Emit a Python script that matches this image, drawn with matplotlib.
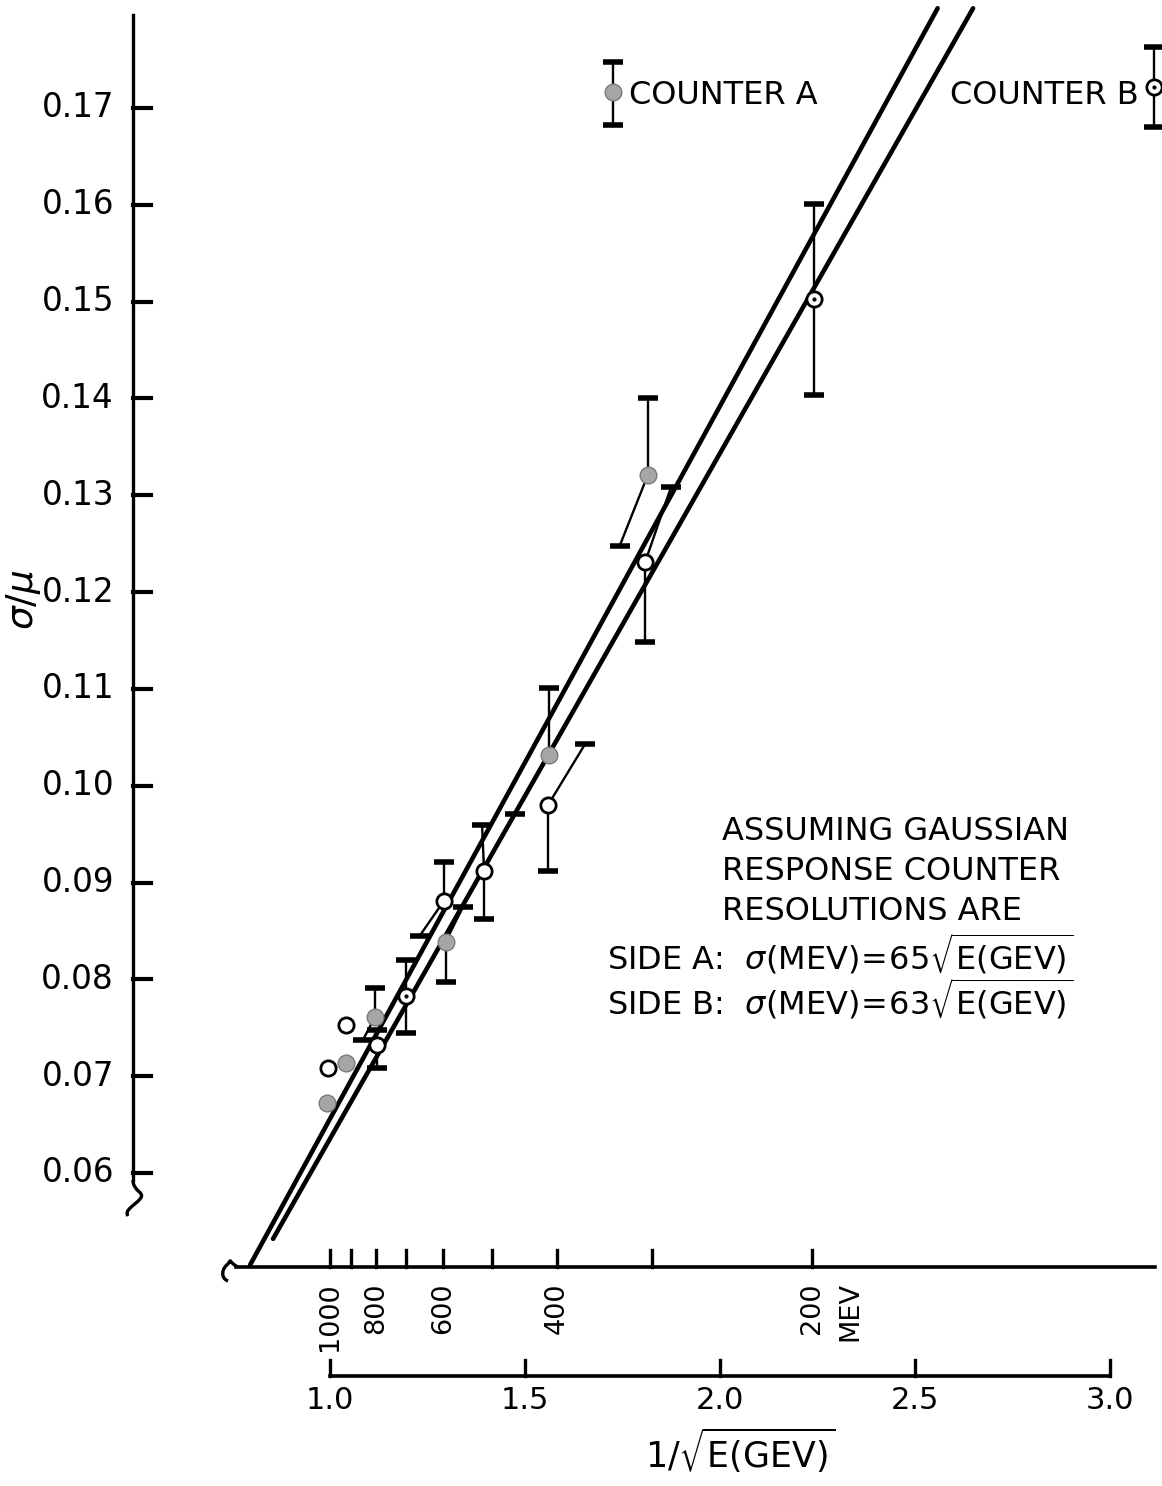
import numpy as np
import matplotlib
matplotlib.use("Agg")
import matplotlib.pyplot as plt
from matplotlib.path import Path
from matplotlib.patches import PathPatch

# sigma/mu axis
y_ticks = [0.06, 0.07, 0.08, 0.09, 0.10, 0.11, 0.12, 0.13, 0.14, 0.15, 0.16, 0.17]
y_tick_labels = ["0.06", "0.07", "0.08", "0.09", "0.10", "0.11",
                 "0.12", "0.13", "0.14", "0.15", "0.16", "0.17"]

# beam energy scale (MEV), placed at 1/sqrt(E in GEV)
energy_ticks = [1000, 900, 800, 700, 600, 500, 400, 300, 200]
energy_labels = ["1000", "", "800", "", "600", "", "400", "", "200"]

# 1/sqrt(E) scale
inv_ticks = [1.0, 1.5, 2.0, 2.5, 3.0]
inv_labels = ["1.0", "1.5", "2.0", "2.5", "3.0"]

# counter A (filled points)
a_x = [0.992, 1.041, 1.115, 1.297, 1.562, 1.815]
a_y = [0.0672, 0.0714, 0.0761, 0.0839, 0.1032, 0.1321]
a_lo = [np.nan, np.nan, 0.0737, 0.0797, 0.0971, 0.1248]
a_hi = [np.nan, np.nan, 0.0791, 0.0875, 0.1101, 0.1400]
a_lo_dx = [0, 0, -0.031, 0, -0.087, -0.072]
a_hi_dx = [0, 0, 0, 0.044, 0, 0]

# counter B (open points)
b_x = [0.995, 1.041, 1.121, 1.195, 1.292, 1.395, 1.559, 1.808, 2.241]
b_y = [0.0708, 0.0753, 0.0732, 0.0783, 0.0881, 0.0912, 0.0980, 0.1231, 0.1503]
b_lo = [np.nan, np.nan, 0.0708, 0.0745, 0.0845, 0.0862, 0.0912, 0.1148, 0.1404]
b_hi = [np.nan, np.nan, 0.0748, 0.0820, 0.0921, 0.0959, 0.1043, 0.1309, 0.1601]
b_lo_dx = [0, 0, 0, 0, -0.062, 0, 0, 0, 0]
b_hi_dx = [0, 0, 0, 0, 0, -0.005, 0.095, 0.067, 0]
b_dot = [0, 0, 0, 1, 0, 0, 0, 0, 1]

# fitted lines (end points)
line_a_x = [0.795, 2.558]
line_a_y = [0.0505, 0.1803]
line_b_x = [0.854, 2.649]
line_b_y = [0.0532, 0.1803]

annot_lines = ["ASSUMING GAUSSIAN", "RESPONSE COUNTER", "RESOLUTIONS ARE"]
side_a = r"SIDE A:  $\sigma$(MEV)$\!=\!$65$\sqrt{\mathrm{E(GEV)}}$"
side_b = r"SIDE B:  $\sigma$(MEV)$\!=\!$63$\sqrt{\mathrm{E(GEV)}}$"


# pixel -> data helpers for layout
def ux(px):
    return 1.0 + (px - 330) / 390.0


def vy(py):
    return 0.06 + (1173 - py) / 9682.0


plt.rcParams["font.family"] = ["DejaVu Sans"]
plt.rcParams["mathtext.fontset"] = "dejavusans"

fig = plt.figure(figsize=(11.62, 14.86), dpi=100)
ax = fig.add_axes([0, 0, 1, 1])
ax.set_xlim(ux(0), ux(1162))
ax.set_ylim(vy(1486), vy(0))
ax.axis("off")

K = "black"


def squiggle(pts):
    verts = [(ux(x), vy(y)) for x, y in pts]
    codes = [Path.MOVETO] + [Path.CURVE4] * (len(verts) - 1)
    ax.add_patch(PathPatch(Path(verts, codes), fill=False, lw=2.4, color=K))


# vertical axis
ax.plot([ux(133), ux(133)], [vy(15), vy(1180)], color=K, lw=2.4)
squiggle([(133, 1180), (133, 1192), (146, 1192), (140, 1199),
          (134, 1206), (124, 1210), (128, 1216)])
for yt, lab in zip(y_ticks, y_tick_labels):
    ax.plot([ux(133), ux(151)], [yt, yt], color=K, lw=3)
    ax.text(ux(114), yt, lab, ha="right", va="center", fontsize=23.5)
ax.text(ux(24), vy(600), r"$\sigma/\mu$", rotation=90, ha="center",
        va="center", fontsize=27)

# horizontal axis with energy ticks
ax.plot([ux(236), ux(1155)], [vy(1267), vy(1267)], color=K, lw=2.6)
squiggle([(238, 1267), (228, 1262), (232, 1258), (228, 1264),
          (222, 1268), (220, 1278), (228, 1281)])
for e, lab in zip(energy_ticks, energy_labels):
    xe = 1.0 / np.sqrt(e / 1000.0)
    ax.plot([xe, xe], [vy(1267), vy(1250)], color=K, lw=2.4)
    if lab:
        ax.text(xe, vy(1282), lab, rotation=90, ha="center", va="top",
                fontsize=19.5)
ax.text(ux(850), vy(1282), "MEV", rotation=90, ha="center", va="top",
        fontsize=19.5)

# lower 1/sqrt(E) scale
ax.plot([inv_ticks[0], inv_ticks[-1]], [vy(1376), vy(1376)], color=K, lw=2.6)
for t, lab in zip(inv_ticks, inv_labels):
    ax.plot([t, t], [vy(1376), vy(1360)], color=K, lw=2.4)
    ax.text(t, vy(1386), lab, ha="center", va="top", fontsize=22)
ax.text(ux(740), vy(1426), r"1/$\sqrt{\mathrm{E(GEV)}}$", ha="center",
        va="top", fontsize=25)

# fit lines
ax.plot(line_a_x, line_a_y, color=K, lw=3.3, solid_capstyle="round", zorder=3)
ax.plot(line_b_x, line_b_y, color=K, lw=3.3, solid_capstyle="round", zorder=3)


def err_bars(xs, ys, lo, hi, lo_dx, hi_dx):
    for x, y, l, h, dl, dh in zip(xs, ys, lo, hi, lo_dx, hi_dx):
        if np.isfinite(l):
            ax.plot([x + dl, x], [l, y], color=K, lw=1.7, zorder=2)
            ax.plot(x + dl, l, marker="_", ms=14, mew=4, color=K, zorder=2)
        if np.isfinite(h):
            ax.plot([x + dh, x], [h, y], color=K, lw=1.7, zorder=2)
            ax.plot(x + dh, h, marker="_", ms=14, mew=4, color=K, zorder=2)


err_bars(a_x, a_y, a_lo, a_hi, a_lo_dx, a_hi_dx)
err_bars(b_x, b_y, b_lo, b_hi, b_lo_dx, b_hi_dx)

ax.plot(a_x, a_y, "o", ms=12, mfc="#a6a6a6", mec="#7a7a7a", mew=1, zorder=4)
ax.plot(b_x, b_y, "o", ms=11, mfc="white", mec=K, mew=2, zorder=4)
for x, y, d in zip(b_x, b_y, b_dot):
    if d:
        ax.plot(x, y, ".", ms=4, color=K, zorder=5)

# legend keys
ax.plot([ux(613), ux(613)], [vy(62), vy(125)], color=K, lw=1.7)
ax.plot([ux(613)] * 2, [vy(62), vy(125)], "_", ms=14, mew=4, color=K)
ax.plot(ux(613), vy(92), "o", ms=12, mfc="#a6a6a6", mec="#7a7a7a", mew=1)
ax.text(ux(629), vy(95), "COUNTER A", ha="left", va="center", fontsize=23)

ax.plot([ux(1154), ux(1154)], [vy(47), vy(127)], color=K, lw=1.7)
ax.plot([ux(1154)] * 2, [vy(47), vy(127)], "_", ms=14, mew=4, color=K)
ax.plot(ux(1154), vy(87), "o", ms=11, mfc="white", mec=K, mew=2)
ax.plot(ux(1154), vy(87), ".", ms=4, color=K)
ax.text(ux(1139), vy(95), "COUNTER B", ha="right", va="center", fontsize=23)

# resolution note
for i, s in enumerate(annot_lines):
    ax.text(ux(722), vy(832 + 40 * i), s, ha="left", va="center", fontsize=23)
ax.text(ux(607), vy(955), side_a, ha="left", va="center", fontsize=23)
ax.text(ux(607), vy(1000), side_b, ha="left", va="center", fontsize=23)

fig.savefig("out.png", dpi=100)
